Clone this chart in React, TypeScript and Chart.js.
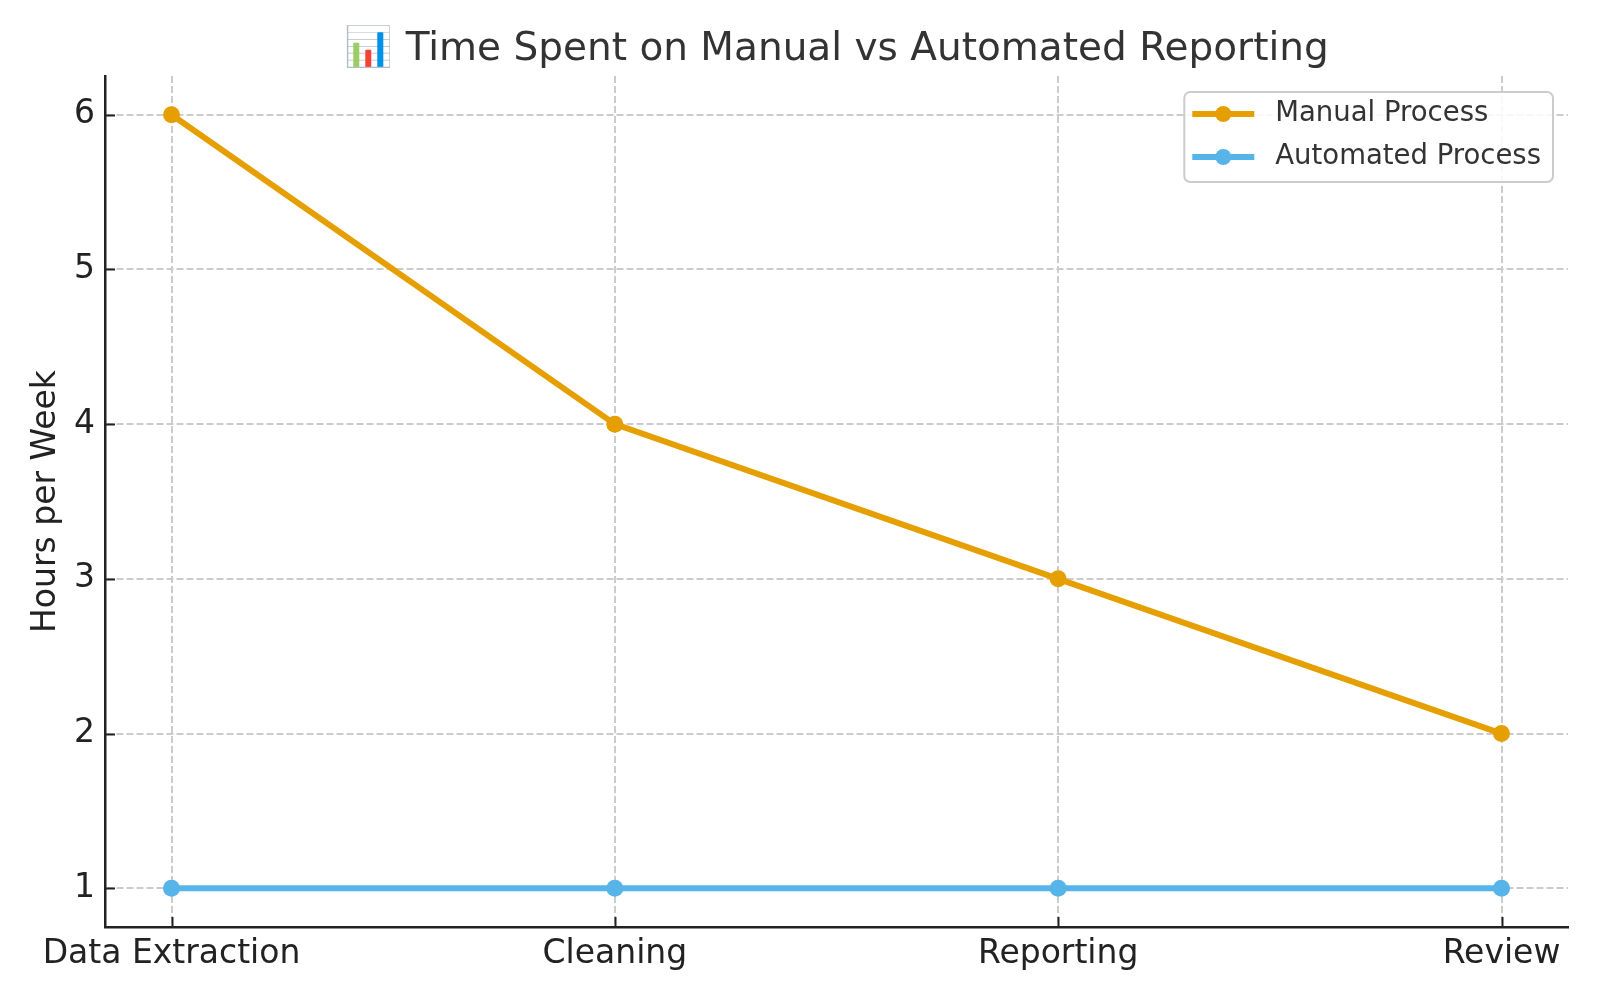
import React, { useEffect, useRef } from 'react';
import { Chart, registerables } from 'chart.js';

Chart.register(...registerables);

const categories = ['Data Extraction', 'Cleaning', 'Reporting', 'Review'];
const manualHours = [6, 4, 3, 2];
const automatedHours = [1, 1, 1, 1];
const yTicks = [1, 2, 3, 4, 5, 6];
const seriesNames = ['Manual Process', 'Automated Process'];
const seriesColors = ['#E69F00', '#56B4E9'];
const titleText = '📊 Time Spent on Manual vs Automated Reporting';
const yAxisTitle = 'Hours per Week';

const FONT = '"DejaVu Sans", sans-serif';

const decorPlugin = {
  id: 'decor',
  afterDraw(chart: any) {
    const ctx = chart.ctx as CanvasRenderingContext2D;
    const a = chart.chartArea;
    const xs = chart.scales.x;
    const ys = chart.scales.y;
    ctx.save();
    // inward tick marks
    ctx.strokeStyle = '#222';
    ctx.lineWidth = 2;
    ctx.beginPath();
    categories.forEach((_, i) => {
      const px = Math.round(xs.getPixelForValue(i)) + 0.5;
      ctx.moveTo(px, a.bottom);
      ctx.lineTo(px, a.bottom - 10);
    });
    yTicks.forEach((v) => {
      const py = Math.round(ys.getPixelForValue(v)) + 0.5;
      ctx.moveTo(a.left, py);
      ctx.lineTo(a.left + 10, py);
    });
    ctx.stroke();

    // title
    ctx.fillStyle = '#333333';
    ctx.font = `39px ${FONT}`;
    ctx.textAlign = 'center';
    ctx.textBaseline = 'alphabetic';
    ctx.fillText(titleText, (a.left + a.right) / 2, 60);

    // legend
    ctx.font = `27.5px ${FONT}`;
    const maxW = Math.max(...seriesNames.map((n) => ctx.measureText(n).width));
    const boxW = 91 + maxW + 12;
    const boxH = 90;
    const bx = a.right - 15 - boxW;
    const by = a.top + 16;
    ctx.fillStyle = 'rgba(255,255,255,0.85)';
    ctx.strokeStyle = '#cccccc';
    ctx.lineWidth = 2;
    ctx.beginPath();
    (ctx as any).roundRect(bx, by, boxW, boxH, 6);
    ctx.fill();
    ctx.stroke();
    seriesNames.forEach((name, i) => {
      const cy = by + 22 + i * 43;
      ctx.strokeStyle = seriesColors[i];
      ctx.lineWidth = 6;
      ctx.beginPath();
      ctx.moveTo(bx + 8, cy);
      ctx.lineTo(bx + 70, cy);
      ctx.stroke();
      ctx.fillStyle = seriesColors[i];
      ctx.beginPath();
      ctx.arc(bx + 39, cy, 8, 0, Math.PI * 2);
      ctx.fill();
      ctx.fillStyle = '#333333';
      ctx.textAlign = 'left';
      ctx.textBaseline = 'middle';
      ctx.fillText(name, bx + 91, cy);
    });
    ctx.restore();
  },
};

export default function App() {
  const ref = useRef<HTMLCanvasElement>(null);
  useEffect(() => {
    document.body.style.margin = '0';
    document.body.style.overflow = 'hidden';
    const canvas = ref.current!;
    const seriesData = [manualHours, automatedHours];
    const chart = new Chart(canvas, {
      type: 'line',
      data: {
        datasets: seriesData.map((vals, si) => ({
          label: seriesNames[si],
          data: vals.map((v, i) => ({ x: i, y: v })),
          borderColor: seriesColors[si],
          backgroundColor: seriesColors[si],
          pointBackgroundColor: seriesColors[si],
          pointBorderWidth: 0,
          pointRadius: 8.5,
          borderWidth: 6,
          tension: 0,
          fill: false,
          clip: false as any,
        })),
      },
      options: {
        responsive: false,
        animation: false,
        events: [],
        layout: { padding: { top: 76, right: 32, left: 0, bottom: 0 } },
        plugins: {
          legend: { display: false },
          title: { display: false },
          tooltip: { enabled: false },
        },
        scales: {
          x: {
            type: 'linear',
            min: -0.15,
            max: categories.length - 1 + 0.15,
            afterBuildTicks: (s: any) => {
              s.ticks = categories.map((_, i) => ({ value: i }));
            },
            afterFit: (s: any) => {
              s.height = 73;
            },
            ticks: {
              callback: (v: any) => categories[v as number] ?? '',
              font: { family: FONT, size: 33 },
              color: '#222222',
              padding: 8,
              maxRotation: 0,
              autoSkip: false,
            },
            grid: {
              color: '#cccccc',
              lineWidth: 2,
              drawTicks: false,
            },
            border: { display: true, color: '#222222', width: 2.5, dash: [7, 3] } as any,
          },
          y: {
            type: 'linear',
            min: 0.75,
            max: 6.25,
            afterBuildTicks: (s: any) => {
              s.ticks = yTicks.map((v) => ({ value: v }));
            },
            afterFit: (s: any) => {
              s.width = 105;
            },
            ticks: {
              font: { family: FONT, size: 33 },
              color: '#222222',
              padding: 10,
            },
            grid: {
              color: '#cccccc',
              lineWidth: 2,
              drawTicks: false,
            },
            border: { display: true, color: '#222222', width: 2.5, dash: [7, 3] } as any,
            title: {
              display: true,
              text: yAxisTitle,
              font: { family: FONT, size: 33, lineHeight: 1 },
              color: '#222222',
              padding: { top: 30, bottom: 0 },
            },
          },
        },
      },
      plugins: [decorPlugin],
    });
    return () => chart.destroy();
  }, []);
  return (
    <div style={{ width: 1600, height: 1000 }}>
      <canvas ref={ref} width={1600} height={1000} style={{ display: 'block' }} />
    </div>
  );
}
